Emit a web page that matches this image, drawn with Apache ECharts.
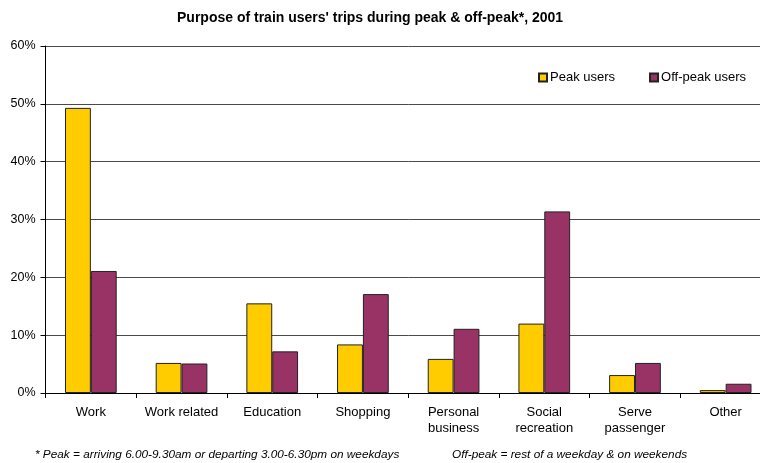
<!DOCTYPE html>
<html><head><meta charset="utf-8">
<script src="https://cdn.jsdelivr.net/npm/echarts@6/dist/echarts.min.js"></script>
<style>html,body{margin:0;padding:0;background:#fff;overflow:hidden}#c{width:771px;height:463px}</style>
</head><body><div id="c"></div>
<script>
const categories = ['Work','Work related','Education','Shopping','Personal\nbusiness','Social\nrecreation','Serve\npassenger','Other'];
const peakUsers = [49.3, 5.2, 15.5, 8.4, 5.9, 12.0, 3.1, 0.5];
const offPeakUsers = [21.1, 5.1, 7.2, 17.1, 11.1, 31.4, 5.2, 1.6];
const seriesNames = ['Peak users','Off-peak users'];
const titleText = "Purpose of train users' trips during peak & off-peak*, 2001";
const footLeft = '* Peak = arriving 6.00-9.30am or departing 3.00-6.30pm on weekdays';
const footRight = 'Off-peak = rest of a weekday & on weekends';

const FONT = '"Liberation Sans", Arial, sans-serif';
const chart = echarts.init(document.getElementById('c'), null, {renderer:'canvas'});
chart.setOption({
  animation: false,
  backgroundColor: '#fff',
  title: {text: titleText, left: 172, top: 6,
    textStyle: {fontFamily: FONT, fontSize: 14, fontWeight: 'bold', color: '#000'}},
  legend: {data: seriesNames, left: 538, top: 71, padding: 0, itemWidth: 8, itemHeight: 8, itemGap: 34,
    icon: 'rect',
    textStyle: {fontFamily: FONT, fontSize: 13, color: '#000', padding: [0,0,0,-2]}},
  grid: {left: 45.5, right: 0, top: 46, bottom: 70, containLabel: false},
  xAxis: {type: 'category', data: categories,
    axisLine: {lineStyle: {color: '#000', width: 1}},
    axisTick: {show: true, length: 5, lineStyle: {color: '#000'}, alignWithLabel: false},
    axisLabel: {fontFamily: FONT, fontSize: 13, color: '#000', margin: 11, lineHeight: 16, interval: 0}},
  yAxis: {type: 'value', min: 0, max: 60, interval: 10,
    axisLine: {show: true, lineStyle: {color: '#000', width: 1}},
    axisTick: {show: true, length: 5, lineStyle: {color: '#000'}},
    axisLabel: {formatter: '{value}%', fontFamily: FONT, fontSize: 12.5, color: '#000', margin: 10},
    splitLine: {lineStyle: {color: '#4a4a4a', width: 1}}},
  series: [
    {name: seriesNames[0], type: 'bar', data: peakUsers, barGap: '0%', barCategoryGap: '43%',
     itemStyle: {color: '#FFCC00', borderColor: '#222', borderWidth: 1}},
    {name: seriesNames[1], type: 'bar', data: offPeakUsers, barGap: '0%', barCategoryGap: '43%',
     itemStyle: {color: '#993366', borderColor: '#222', borderWidth: 1}}
  ],
  graphic: [
    {type: 'text', left: 35, top: 449, style: {text: footLeft, font: 'italic 11.8px ' + FONT, fill: '#000'}},
    {type: 'text', left: 452, top: 449, style: {text: footRight, font: 'italic 11.8px ' + FONT, fill: '#000'}}
  ]
});
</script></body></html>
